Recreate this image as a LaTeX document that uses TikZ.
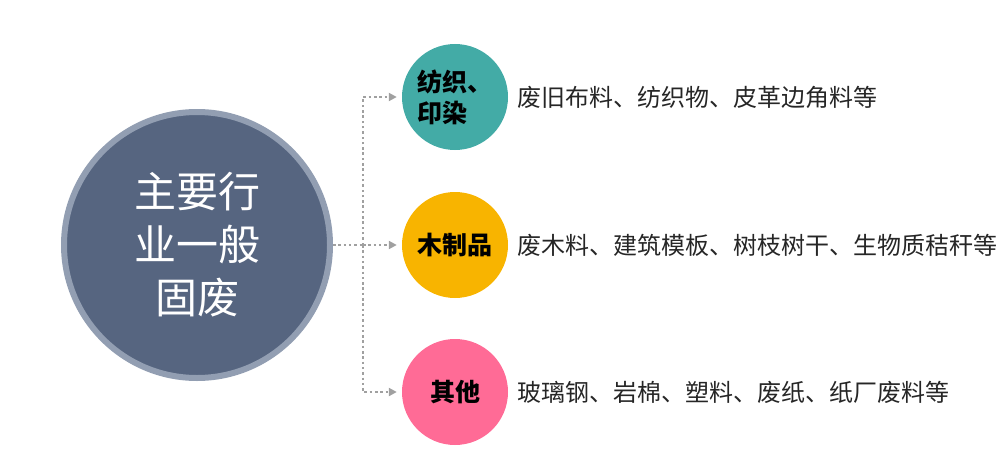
\documentclass[tikz,border=0pt]{standalone}
\usepackage{fontspec}
\setmainfont{Noto Sans CJK SC}
\usetikzlibrary{arrows.meta,positioning}
\definecolor{hubfill}{RGB}{86,101,128}
\definecolor{hubring}{RGB}{146,158,178}
\definecolor{textteal}{RGB}{67,171,166}
\definecolor{woodgold}{RGB}{248,180,0}
\definecolor{otherpink}{RGB}{255,107,150}
\definecolor{linkgrey}{RGB}{160,160,160}
\definecolor{desctext}{RGB}{38,38,38}

\begin{document}
\begin{tikzpicture}[>=Stealth,line cap=round,line join=round,
 x=1pt,y=-1pt,
 hub/.style={circle,draw=hubring,line width=6pt,fill=hubfill,
  minimum size=266pt,inner sep=0pt,text=white,align=center,
  font=\fontsize{42}{53}\selectfont},
 cat/.style={circle,minimum size=106pt,inner sep=0pt,align=center,
  font=\bfseries\fontsize{25}{31}\selectfont},
 desc/.style={anchor=west,inner sep=0pt,text=desctext,
  font=\fontsize{24}{28}\selectfont},
 link/.style={draw=linkgrey,line width=2.5pt,line cap=butt,
  dash pattern=on 2.5pt off 2.8pt}]
 \useasboundingbox (0,0) rectangle (1000,468);
 \node[hub] (main) at (197,245) {主要行\\业一般\\固废};
 \node[cat,fill=textteal,align=left] (textile) at (455,97) {纺织、\\印染};
 \node[cat,fill=woodgold] (wood) at (455,245) {木制品};
 \node[cat,fill=otherpink] (other) at (455,392) {其他};
 \node[desc,right=9pt of textile.east] (textiledesc)
  {废旧布料、纺织物、皮革边角料等};
 \node[desc,right=9pt of wood.east] (wooddesc)
  {废木料、建筑模板、树枝树干、生物质秸秆等};
 \node[desc,right=9pt of other.east] (otherdesc)
  {玻璃钢、岩棉、塑料、废纸、纸厂废料等};
 \coordinate (jn) at (363,245);
 \draw[link] (main.east) -- (jn);
 \foreach \c in {textile,wood,other}
  \draw[link,shorten >=5pt,-{Triangle[length=8pt,width=8pt]}]
   (jn) |- (\c.west);
\end{tikzpicture}
\end{document}
